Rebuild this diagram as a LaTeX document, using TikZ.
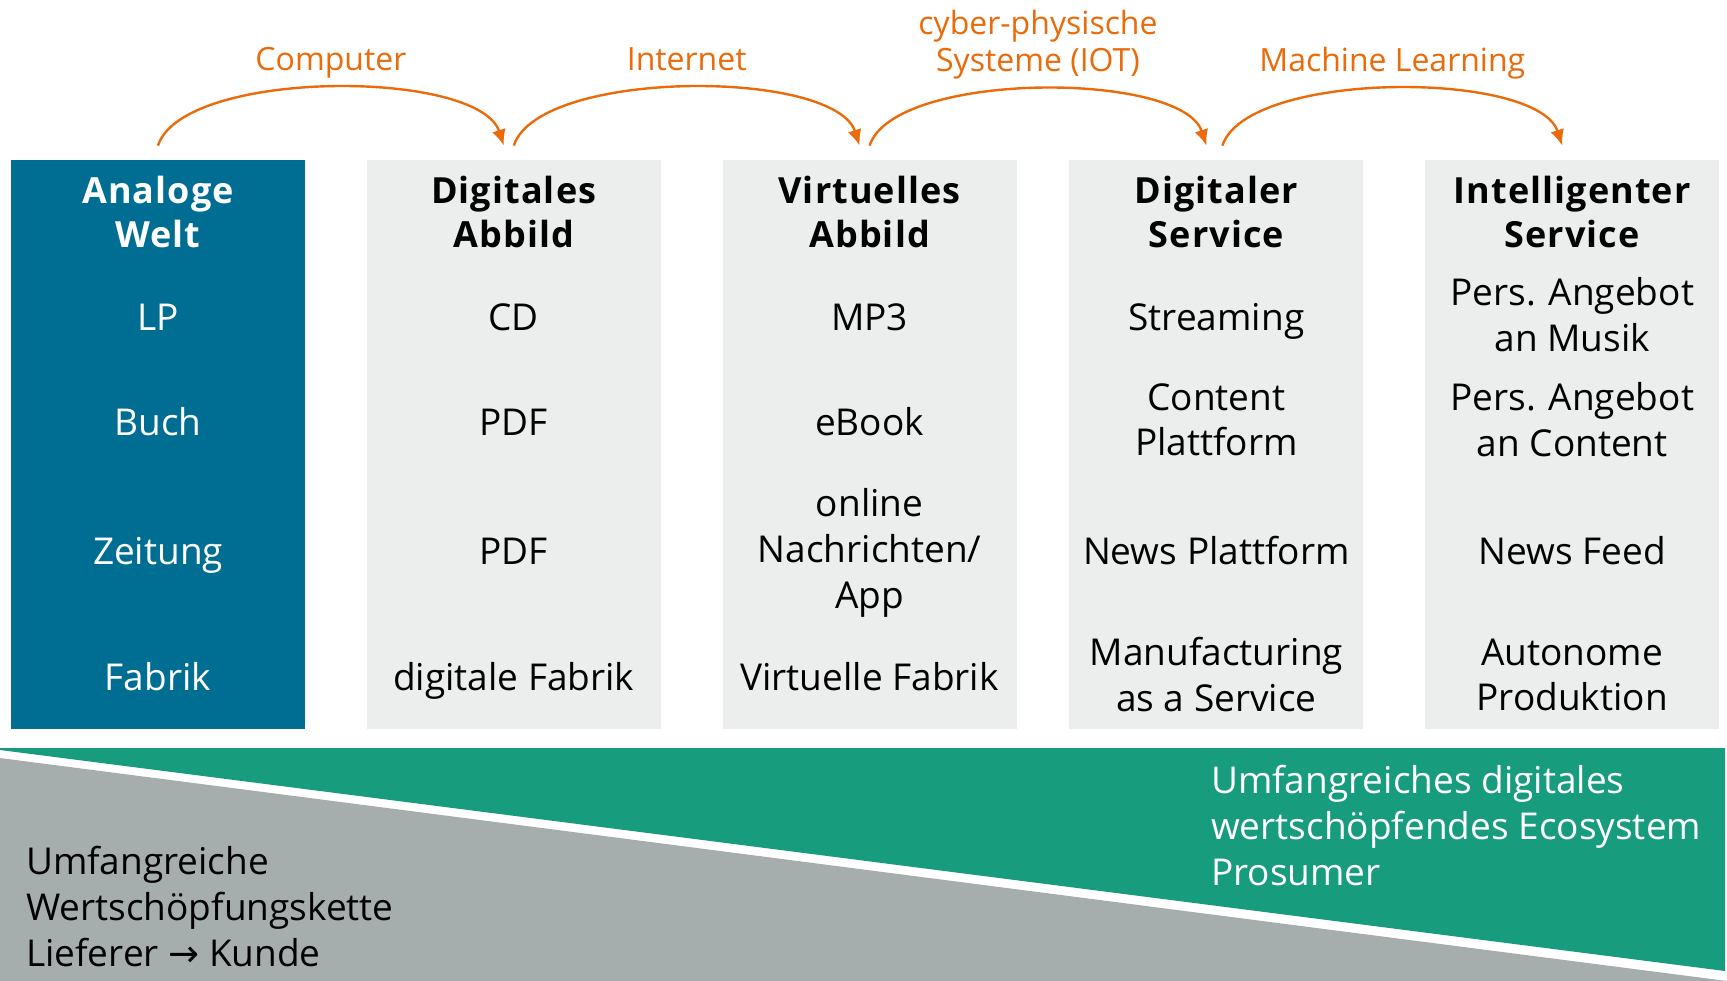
\documentclass[tikz,border=0pt]{standalone}
\usepackage{fontspec}
\setmainfont{Open Sans}
\newfontfamily\arrowfont{DejaVu Sans}
\usetikzlibrary{arrows.meta,positioning}

\definecolor{fhblue}{RGB}{0,110,146}
\definecolor{fhgreen}{RGB}{23,156,125}
\definecolor{fhgray}{RGB}{166,174,173}
\definecolor{fhlight}{RGB}{236,237,237}
\definecolor{fhorange}{RGB}{235,106,10}

\tikzset{
colbox/.style={
  rectangle,
  fill=fhlight,
  inner sep=0pt,
  minimum width=147pt,
  minimum height=284.5pt
  },
head/.style={
  align=center,
  font=\fontsize{18}{22}\selectfont\bfseries\addfontfeatures{LetterSpace=3},
  execute at begin node=\strut,
  execute at end node=\strut
  },
cell/.style={
  align=center,
  font=\fontsize{18.5}{22.9}\selectfont,
  execute at begin node=\strut,
  execute at end node=\strut
  },
tech/.style={
  align=center,
  text=fhorange,
  font=\fontsize{16}{18.7}\selectfont,
  execute at begin node=\strut,
  execute at end node=\strut
  },
leap/.style={
  draw=fhorange,
  line width=1.2pt,
  -{Latex[length=8pt,width=7pt]}
  }
}

\begin{document}
\begin{tikzpicture}[x=0.5pt,y=-0.5pt]
\useasboundingbox (0,0) rectangle (1727,980);

% the five stages
\node[colbox,fill=fhblue] (col1) at (158,444.5) {};
\node[colbox,right=30.5pt of col1] (col2) {};
\node[colbox,right=30.5pt of col2] (col3) {};
\node[colbox,right=26pt of col3] (col4) {};
\node[colbox,right=30.5pt of col4] (col5) {};

% headings
\node[head,text=white] (h1) at (col1.center |- 0,218.5) {Analoge\\Welt};
\node[head] (h2) at (col2.center |- 0,218.5) {Digitales\\Abbild};
\node[head] (h3) at (col3.center |- 0,218.5) {Virtuelles\\Abbild};
\node[head] (h4) at (col4.center |- 0,218.5) {Digitaler\\Service};
\node[head] (h5) at (col5.center |- 0,218.5) {Intelligenter\\Service};

% row 1: music
\node[cell,text=white] (r1c1) at (col1.center |- 0,321.5) {LP};
\node[cell] (r1c2) at (col2.center |- 0,321.5) {CD};
\node[cell] (r1c3) at (col3.center |- 0,321.5) {MP3};
\node[cell] (r1c4) at (col4.center |- 0,321.5) {Streaming};
\node[cell] (r1c5) at (col5.center |- 0,321.5) {Pers. Angebot\\an Musik};

% row 2: books
\node[cell,text=white] (r2c1) at (col1.center |- 0,426.5) {Buch};
\node[cell] (r2c2) at (col2.center |- 0,426.5) {PDF};
\node[cell] (r2c3) at (col3.center |- 0,426.5) {eBook};
\node[cell] (r2c4) at (col4.center |- 0,426.5) {Content\\Plattform};
\node[cell] (r2c5) at (col5.center |- 0,426.5) {Pers. Angebot\\an Content};

% row 3: news
\node[cell,text=white] (r3c1) at (col1.center |- 0,555.5) {Zeitung};
\node[cell] (r3c2) at (col2.center |- 0,555.5) {PDF};
\node[cell] (r3c3) at (col3.center |- 0,555.5) {online\\Nachrichten/\\App};
\node[cell] (r3c4) at (col4.center |- 0,555.5) {News Plattform};
\node[cell] (r3c5) at (col5.center |- 0,555.5) {News Feed};

% row 4: production
\node[cell,text=white] (r4c1) at (col1.center |- 0,681.5) {Fabrik};
\node[cell] (r4c2) at (col2.center |- 0,681.5) {digitale Fabrik};
\node[cell] (r4c3) at (col3.center |- 0,681.5) {Virtuelle Fabrik};
\node[cell] (r4c4) at (col4.center |- 0,681.5) {Manufacturing\\as a Service};
\node[cell] (r4c5) at (col5.center |- 0,681.5) {Autonome\\Produktion};

% technology leaps
\coordinate (s1) at ([yshift=7pt]col1.north);
\coordinate (e1) at ([xshift=-5pt,yshift=7pt]col2.north);
\coordinate (s2) at ([yshift=7pt]col2.north);
\coordinate (e2) at ([xshift=-5pt,yshift=7pt]col3.north);
\coordinate (s3) at ([yshift=7pt]col3.north);
\coordinate (e3) at ([xshift=-5pt,yshift=7pt]col4.north);
\coordinate (s4) at ([xshift=3pt,yshift=7pt]col4.north);
\coordinate (e4) at ([xshift=-5pt,yshift=7pt]col5.north);

\draw[leap] (s1) to[out=72,in=108,looseness=0.6]
  node[tech,midway,above=-0.7pt] (t1) {Computer} (e1);
\draw[leap] (s2) to[out=72,in=108,looseness=0.6]
  node[tech,midway,above=-0.7pt] (t2) {Internet} (e2);
\draw[leap] (s3) to[out=72,in=108,looseness=0.6]
  node[tech,midway,above=-0.7pt] (t3) {cyber-physische\\Systeme (IOT)} (e3);
\draw[leap] (s4) to[out=72,in=108,looseness=0.6]
  node[tech,midway,above=-0.7pt] (t4) {Machine Learning} (e4);

% value creation wedges
\fill[fhgreen] (0,748) -- (1725,748) -- (1725,971) -- (0,750) -- cycle;
\fill[fhgray] (0,758) -- (1727,981) -- (0,981) -- cycle;

\node[cell,anchor=west,align=left,text=white] (eco) at (1204,832)
  {Umfangreiches digitales\\wertschöpfendes Ecosystem\\Prosumer};
\node[cell,anchor=west,align=left] (chain) at (19,913)
  {Umfangreiche\\Wertschöpfungskette\\Lieferer {\arrowfont →} Kunde};

\end{tikzpicture}
\end{document}
